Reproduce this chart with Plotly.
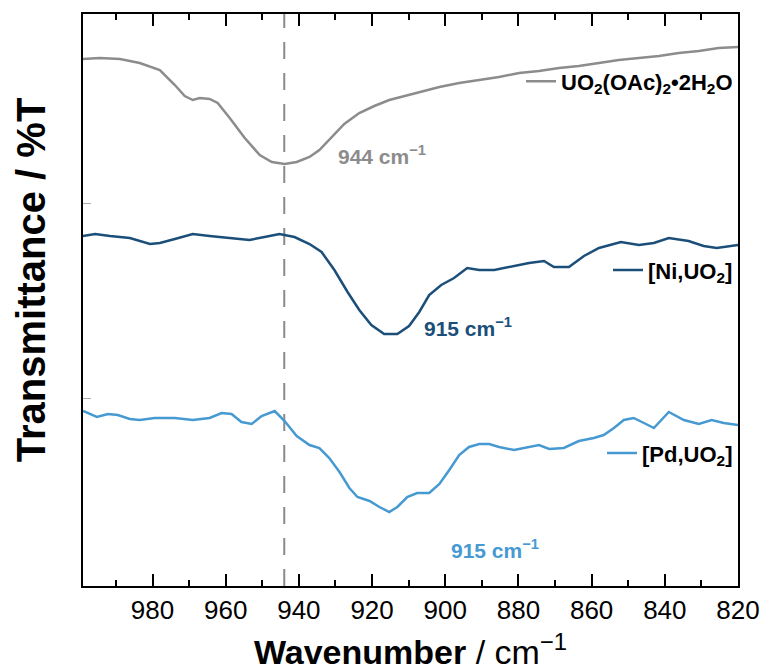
import plotly.graph_objects as go

# Wavenumbers (cm-1) and offset transmittance (arbitrary units)
uo2_x = [999.0, 994.4, 988.9, 983.5, 978.0, 973.9, 971.2, 969.0, 967.1, 964.4, 962.2, 958.9, 954.8,
         950.7, 947.4, 943.9, 940.6, 937.1, 934.4, 931.1, 927.6, 923.5, 919.4, 915.3, 911.2, 907.1,
         901.6, 896.2, 890.7, 885.3, 879.8, 874.4, 868.9, 863.5, 858.0, 852.6, 847.1, 841.6, 836.2,
         830.7, 825.3, 820.0]
uo2_y = [527, 528, 527, 523, 516, 501, 490, 486, 488, 487, 483, 468, 448,
         431, 424, 422, 424, 429, 436, 449, 462, 473, 480, 486, 490, 494,
         499, 503, 506, 509, 513, 515, 518, 520, 523, 526, 528, 530, 533,
         535, 538, 539]

ni_x = [999.0, 995.7, 991.6, 986.2, 980.7, 978.0, 973.9, 969.0, 964.4, 958.9, 953.5, 949.4, 945.3,
        941.2, 937.1, 933.8, 930.3, 926.7, 923.5, 920.2, 916.7, 913.1, 909.9, 907.1, 904.4, 901.1,
        897.6, 894.0, 890.7, 886.6, 882.5, 877.1, 873.0, 870.3, 866.2, 862.1, 858.0, 852.0, 847.1,
        843.0, 838.9, 833.5, 829.4, 825.8, 820.0]
ni_y = [350, 352, 350, 348, 342, 343, 347, 352, 350, 348, 346, 349, 352,
        349, 342, 334, 316, 294, 276, 261, 252, 252, 260, 274, 291, 301,
        308, 318, 316, 316, 319, 323, 325, 319, 319, 330, 338, 344, 341,
        343, 348, 345, 340, 338, 341]

pd_x = [999.0, 995.2, 992.2, 989.5, 986.2, 983.5, 979.4, 973.9, 969.0, 964.4, 961.1, 958.4, 955.7,
        952.9, 950.2, 946.6, 943.9, 940.6, 937.1, 934.4, 931.7, 928.9, 926.2, 924.0, 920.7, 918.0,
        915.3, 913.1, 910.4, 907.7, 904.4, 901.6, 898.9, 896.2, 893.5, 890.7, 888.0, 885.3, 881.2,
        877.1, 874.4, 871.6, 867.6, 863.5, 859.4, 856.7, 853.9, 851.2, 848.5, 845.7, 843.0, 838.9,
        834.8, 830.7, 827.2, 823.9, 820.0]
pd_y = [175, 169, 172, 171, 167, 166, 168, 168, 166, 168, 173, 172, 164,
        162, 170, 175, 165, 150, 141, 138, 128, 114, 98, 89, 85, 79,
        74, 79, 89, 93, 93, 102, 116, 131, 139, 142, 142, 139, 136,
        139, 141, 137, 138, 145, 148, 151, 158, 166, 168, 163, 158, 174,
        166, 162, 166, 163, 161]

marker_wavenumber = 944
peak_labels = ["944 cm<sup>\u22121</sup>", "915 cm<sup>\u22121</sup>", "915 cm<sup>\u22121</sup>"]
x_ticks = [980, 960, 940, 920, 900, 880, 860, 840, 820]
y_ticks = [188, 383]

GRAY = "#8c8c8c"
NAVY = "#1b4f79"
LIGHT = "#4799d2"
FONT = "Liberation Sans, Arial, sans-serif"

fig = go.Figure()
fig.add_trace(go.Scatter(x=[marker_wavenumber, marker_wavenumber], y=[0, 572], mode="lines",
                         line=dict(color="#8a8a8a", width=2, dash="17px,14px"),
                         showlegend=False, hoverinfo="skip"))
fig.add_trace(go.Scatter(x=uo2_x, y=uo2_y, mode="lines", line=dict(color=GRAY, width=2.5),
                         name="<b>UO<sub>2</sub>(OAc)<sub>2</sub>\u20222H<sub>2</sub>O</b>", legend="legend"))
fig.add_trace(go.Scatter(x=ni_x, y=ni_y, mode="lines", line=dict(color=NAVY, width=2.5),
                         name="<b>[Ni,UO<sub>2</sub>]</b>", legend="legend2"))
fig.add_trace(go.Scatter(x=pd_x, y=pd_y, mode="lines", line=dict(color=LIGHT, width=2.5),
                         name="<b>[Pd,UO<sub>2</sub>]</b>", legend="legend3"))

leg_common = dict(xanchor="right", x=1.0, yanchor="middle", bgcolor="rgba(0,0,0,0)",
                  font=dict(family=FONT, size=22, color="black"), borderwidth=0)
fig.update_layout(
    legend=dict(y=0.882, **leg_common),
    legend2=dict(y=0.552, **leg_common),
    legend3=dict(y=0.232, **leg_common),
)

ann = [(917.2, 431, GRAY), (893.7, 259, NAVY), (886.4, 37, LIGHT)]
for (ax, ay, col), txt in zip(ann, peak_labels):
    fig.add_annotation(x=ax, y=ay, text="<b>" + txt + "</b>", showarrow=False,
                       font=dict(family=FONT, size=21, color=col))

# y-axis title (placed as a rotated annotation so it can sit slightly above centre like the original)
fig.add_annotation(xref="paper", yref="paper", x=-0.079, y=0.535, text="<b>Transmittance / %T</b>",
                   textangle=-90, showarrow=False, xanchor="center", yanchor="middle",
                   font=dict(family=FONT, size=40, color="black"))

fig.update_xaxes(range=[999, 820], tickvals=x_ticks, ticks="inside", ticklen=12, tickwidth=1.5,
                 tickcolor="black", showline=True, linecolor="black", linewidth=2, mirror="ticks",
                 showgrid=False, zeroline=False, automargin=False,
                 minor=dict(ticks="inside", ticklen=6, tickwidth=1.5, tickcolor="black", dtick=10,
                            tick0=990),
                 tickfont=dict(family=FONT, size=26, color="black"),
                 title=dict(text="<b>Wavenumber</b> / cm<sup>\u22121</sup>",
                            font=dict(family=FONT, size=34, color="black"), standoff=16))
fig.update_yaxes(range=[0, 572], tickvals=y_ticks, ticks="inside", ticklen=8, tickwidth=1,
                 tickcolor="#aaaaaa", showticklabels=False, showline=True, linecolor="black",
                 linewidth=2, mirror=True, showgrid=False, zeroline=False, automargin=False)

fig.update_layout(width=762, height=671, margin=dict(l=83, r=24, t=14, b=85),
                  plot_bgcolor="white", paper_bgcolor="white")

# remove the default page margin so the figure fills the window exactly
fig.write_html("out.html", config={"displayModeBar": False},
               post_script="document.body.style.margin='0';document.body.style.overflow='hidden';")
